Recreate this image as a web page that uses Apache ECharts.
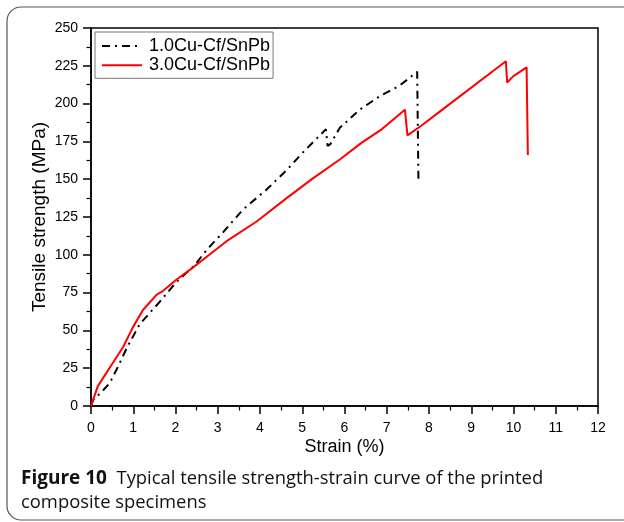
<!DOCTYPE html>
<html><head><meta charset="utf-8">
<script src="https://cdn.jsdelivr.net/npm/echarts@6/dist/echarts.min.js"></script>
<style>html,body{margin:0;padding:0;background:#fff}#c{width:624px;height:522px}</style>
</head><body><div id="c"></div>
<script>
const seriesNames = ['1.0Cu-Cf/SnPb', '3.0Cu-Cf/SnPb'];
const strain10 = [0,0.05,0.24,0.44,0.64,0.84,1.15,1.63,2.02,2.45,2.73,3.13,3.6,4.15,4.63,5.06,5.56,5.6,5.66,5.89,6.36,6.84,7.31,7.72,7.75];
const stress10 = [0,4,9,15,26,38,54,69,82,93,103,115,130,143,156,169,183,172,173,184,196,205,212,221,148];
const strain30 = [0,0.16,0.48,0.76,0.99,1.23,1.55,1.7,2.02,2.41,2.8,3.21,3.92,4.63,5.26,5.89,6.4,6.88,7.43,7.49,7.8,8.27,9.82,9.85,9.99,10.31,10.34];
const stress30 = [0,13,27,39,52,63.5,73.5,76,83.5,91.5,100,109,122,137.5,150.7,163,174,183,196,179,185,195,228,214,218,224,166];
const xTicks = {min:0, max:12, interval:1};
const yTicks = {min:0, max:250, interval:25};

const pair = (xs, ys) => xs.map((x,i)=>[x, ys[i]]);
const chart = echarts.init(document.getElementById('c'), null, {renderer:'canvas'});
const axisFont = 'Liberation Sans, Arial, sans-serif';
chart.setOption({
  animation:false,
  backgroundColor:'#fff',
  grid:{left:91, right:26, top:28, bottom:116, show:true, borderColor:'#000', borderWidth:1.5, backgroundColor:'transparent'},
  legend:{
    left:95, top:32, orient:'vertical', itemWidth:40, itemHeight:14, itemGap:1.3,
    padding:[5,3,4,6], borderColor:'#777', borderWidth:1,
    itemStyle:{color:'rgba(0,0,0,0)', borderWidth:0, opacity:0},
    textStyle:{fontFamily:axisFont, fontSize:18, lineHeight:18, color:'#000', padding:[0,0,0,2]},
    data:[seriesNames[0], seriesNames[1]]
  },
  xAxis:{
    type:'value', min:xTicks.min, max:xTicks.max, interval:xTicks.interval,
    name:'Strain (%)', nameLocation:'middle', nameGap:32, nameMoveOverlap:false,
    nameTextStyle:{fontFamily:axisFont, fontSize:18, color:'#000'},
    axisLine:{onZero:false, lineStyle:{color:'#000', width:1.5}},
    axisTick:{show:true, inside:false, length:8, lineStyle:{color:'#000', width:1.5}},
    minorTick:{show:true, splitNumber:2, length:4.5, lineStyle:{color:'#000', width:1.2}},
    axisLabel:{fontFamily:axisFont, fontSize:14, color:'#000', margin:15},
    splitLine:{show:false}
  },
  yAxis:{
    type:'value', min:yTicks.min, max:yTicks.max, interval:yTicks.interval,
    name:'Tensile strength (MPa)', nameLocation:'middle', nameGap:42, nameMoveOverlap:false,
    nameTextStyle:{fontFamily:axisFont, fontSize:19, color:'#000'},
    axisLine:{show:true, onZero:false, lineStyle:{color:'#000', width:1.5}},
    axisTick:{show:true, inside:false, length:8, lineStyle:{color:'#000', width:1.5}},
    minorTick:{show:true, splitNumber:2, length:4.5, lineStyle:{color:'#000', width:1.2}},
    axisLabel:{fontFamily:axisFont, fontSize:14, color:'#000', margin:13},
    splitLine:{show:false}
  },
  series:[
    {name:seriesNames[0], type:'line', data:pair(strain10, stress10), showSymbol:false, symbol:'none',
     lineStyle:{color:'#000', width:2, type:[8,5,2,5]}, itemStyle:{color:'#000'}},
    {name:seriesNames[1], type:'line', data:pair(strain30, stress30), showSymbol:false, symbol:'none',
     lineStyle:{color:'#ff0000', width:2}, itemStyle:{color:'#ff0000'}}
  ],
  graphic:[
    {type:'rect', silent:true, shape:{x:7, y:7, width:660, height:513, r:14}, style:{fill:'none', stroke:'#555', lineWidth:1.2}},
    {type:'text', left:21, top:469, style:{
      text:'{b|Figure 10}  Typical tensile strength-strain curve of the printed',
      font:'18.4px "Open Sans"', fill:'#111',
      rich:{b:{fontFamily:'Open Sans', fontWeight:'bold', fontSize:19, fill:'#111'}}
    }},
    {type:'text', left:21, top:494, style:{text:'composite specimens', font:'18.4px "Open Sans"', fill:'#111'}}
  ]
});
</script></body></html>
